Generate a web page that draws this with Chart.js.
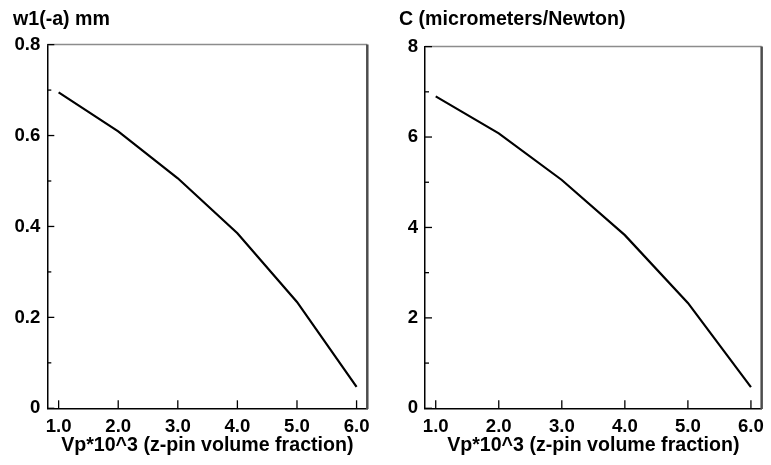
<!DOCTYPE html>
<html>
<head>
<meta charset="utf-8">
<script src="https://cdn.jsdelivr.net/npm/chart.js@4"></script>
<style>
  body { margin: 0; background: #fff; }
  .box { position: absolute; top: 0; height: 465px; }
</style>
</head>
<body>
<div class="box" style="left:0;width:385px"><canvas id="leftChart"></canvas></div>
<div class="box" style="left:385px;width:386px"><canvas id="rightChart"></canvas></div>
<script>
// data
const vpValues = [1.0, 2.0, 3.0, 4.0, 5.0, 6.0];
const w1Values = [0.695, 0.609, 0.506, 0.385, 0.234, 0.047];
const cValues = [6.9, 6.08, 5.05, 3.83, 2.33, 0.47];

const xTicks = [1, 2, 3, 4, 5, 6];
const w1Ticks = [0, 0.2, 0.4, 0.6, 0.8];
const w1Minor = [0.1, 0.3, 0.5, 0.7];
const cTicks = [0, 2, 4, 6, 8];
const cMinor = [1, 3, 5, 7];

const FONT = 'Liberation Sans, Arial, Helvetica, sans-serif';

// box frame + ticks pointing into the plot
const frameTicks = {
    id: 'frameTicks',
    afterDatasetsDraw(chart, args, opts) {
        const { ctx, chartArea: a, scales: { x, y } } = chart;
        const seg = (x1, y1, x2, y2) => { ctx.beginPath(); ctx.moveTo(x1, y1); ctx.lineTo(x2, y2); ctx.stroke(); };
        ctx.save();
        ctx.strokeStyle = '#8c8c8c';
        ctx.lineWidth = 1.5;
        seg(a.left, a.top, a.right, a.top);
        ctx.strokeStyle = '#4d4d4d';
        ctx.lineWidth = 2.5;
        seg(a.right, a.top, a.right, a.bottom + 0.75);
        ctx.strokeStyle = '#000';
        ctx.lineWidth = 1.3;
        y.ticks.forEach(t => { const p = y.getPixelForValue(t.value); seg(a.left, p, a.left + 7, p); });
        opts.minor.forEach(v => { const p = y.getPixelForValue(v); seg(a.left, p, a.left + 4, p); });
        x.ticks.forEach(t => { const p = x.getPixelForValue(t.value); seg(p, a.bottom, p, a.bottom - 8); });
        ctx.restore();
    }
};

function makeChart(id, cfg) {
    return new Chart(document.getElementById(id).getContext('2d'), {
        type: 'line',
        data: {
            datasets: [{
                data: vpValues.map((v, i) => ({ x: v, y: cfg.values[i] })),
                borderColor: '#000',
                borderWidth: 2.2,
                pointRadius: 0,
                tension: 0,
                fill: false
            }]
        },
        options: {
            responsive: true,
            maintainAspectRatio: false,
            animation: false,
            events: [],
            layout: { padding: { left: cfg.padLeft, right: cfg.padRight, top: 0, bottom: 0 } },
            plugins: {
                legend: { display: false },
                tooltip: { enabled: false },
                title: {
                    display: true,
                    text: cfg.title,
                    align: 'start',
                    color: '#000',
                    font: { family: FONT, size: 19.6, weight: 'bold' },
                    padding: { top: 8.2, bottom: cfg.titleGap }
                },
                frameTicks: { minor: cfg.minor }
            },
            scales: {
                x: {
                    type: 'linear',
                    min: cfg.xMin,
                    max: cfg.xMax,
                    afterBuildTicks: s => { s.ticks = xTicks.map(v => ({ value: v })); },
                    afterFit: s => { s.height = 56.7; },
                    grid: { display: true, drawOnChartArea: false, drawTicks: false },
                    border: { display: true, color: '#000', width: 1.5 },
                    ticks: {
                        padding: 7,
                        color: '#000',
                        font: { family: FONT, size: 18.6, weight: 'bold' },
                        maxRotation: 0,
                        callback: v => v.toFixed(1)
                    },
                    title: {
                        display: true,
                        text: 'Vp*10^3 (z-pin volume fraction)',
                        color: '#000',
                        font: { family: FONT, size: 19.6, weight: 'bold' },
                        padding: { top: 0, bottom: 8 }
                    }
                },
                y: {
                    type: 'linear',
                    min: cfg.yTicks[0],
                    max: cfg.yTicks[cfg.yTicks.length - 1],
                    afterBuildTicks: s => { s.ticks = cfg.yTicks.map(v => ({ value: v })); },
                    afterFit: s => { s.width = cfg.yWidth; },
                    grid: { display: true, drawOnChartArea: false, drawTicks: false },
                    border: { display: true, color: '#000', width: 1.5 },
                    ticks: {
                        padding: 7,
                        color: '#000',
                        font: { family: FONT, size: 18.6, weight: 'bold' },
                        callback: v => v === 0 ? '0' : cfg.fmt(v)
                    }
                }
            }
        },
        plugins: [frameTicks]
    });
}

makeChart('leftChart', {
    title: 'w1(-a) mm',
    values: w1Values,
    yTicks: w1Ticks,
    minor: w1Minor,
    fmt: v => v.toFixed(1),
    xMin: 0.81, xMax: 6.18,
    padLeft: 13, padRight: 17.7, yWidth: 34.3, titleGap: 12.9
});

makeChart('rightChart', {
    title: 'C (micrometers/Newton)',
    values: cValues,
    yTicks: cTicks,
    minor: cMinor,
    fmt: v => String(v),
    xMin: 0.83, xMax: 6.17,
    padLeft: 14, padRight: 4.3, yWidth: 26, titleGap: 14.9
});
</script>
</body>
</html>
